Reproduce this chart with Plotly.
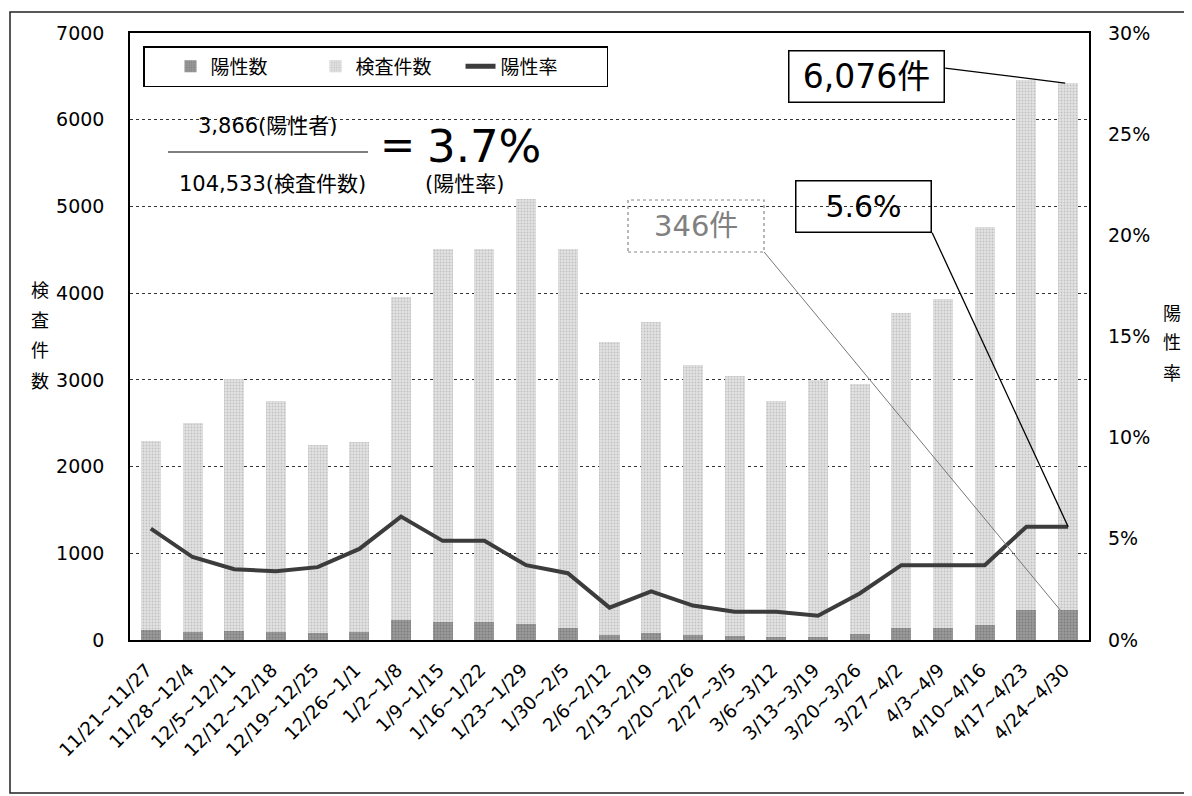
import plotly.graph_objects as go

# ---------------- data ----------------
categories = ["11/21~11/27", "11/28~12/4", "12/5~12/11", "12/12~12/18", "12/19~12/25",
              "12/26~1/1", "1/2~1/8", "1/9~1/15", "1/16~1/22", "1/23~1/29", "1/30~2/5",
              "2/6~2/12", "2/13~2/19", "2/20~2/26", "2/27~3/5", "3/6~3/12", "3/13~3/19",
              "3/20~3/26", "3/27~4/2", "4/3~4/9", "4/10~4/16", "4/17~4/23", "4/24~4/30"]
positives = [120, 98, 102, 91, 78, 98, 228, 211, 211, 182, 144, 54, 86, 53, 42, 38, 36, 66,
             135, 140, 170, 342, 346]
tests = [2180, 2400, 2908, 2669, 2167, 2185, 3732, 4296, 4299, 4909, 4362, 3381, 3587, 3124,
         3004, 2715, 2966, 2886, 3636, 3797, 4590, 6115, 6076]
rate_pct = [5.5, 4.1, 3.5, 3.4, 3.6, 4.5, 6.1, 4.9, 4.9, 3.7, 3.3, 1.6, 2.4, 1.7, 1.4, 1.4,
            1.2, 2.3, 3.7, 3.7, 3.7, 5.6, 5.6]
left_ticks = [0, 1000, 2000, 3000, 4000, 5000, 6000, 7000]
right_ticks = [0, 0.05, 0.10, 0.15, 0.20, 0.25, 0.30]
right_labels = ["0%", "5%", "10%", "15%", "20%", "25%", "30%"]

rates = [r / 100 for r in rate_pct]

FONT = "DejaVu Sans, Noto Sans CJK JP, sans-serif"

fig = go.Figure()
fig.add_trace(go.Bar(
    x=categories, y=positives, name="陽性数",
    marker=dict(color="#8f8f8f", line=dict(width=0),
                pattern=dict(shape=".", fgcolor="#5e5e5e", bgcolor="#9a9a9a", size=3, solidity=0.3)),
))
fig.add_trace(go.Bar(
    x=categories, y=tests, name="検査件数",
    marker=dict(color="#d8d8d8", line=dict(width=0),
                pattern=dict(shape=".", fgcolor="#a0a0a0", bgcolor="#e2e2e2", size=3, solidity=0.3)),
))
fig.add_trace(go.Scatter(
    x=categories, y=rates, name="陽性率", yaxis="y2", mode="lines",
    line=dict(color="#3c3c3c", width=4),
))

# the page adds an 8px body margin; the figure is sized so the screen plot area
# spans x 130..1089, y 33..640
OFF = 8
FW, FH = 1192 - OFF, 796 - OFF
L, R, T, B = 130, 1089, 33, 640          # screen pixels
W, H = R - L, B - T


def px(x):
    return (x - L) / W


def py(y):
    return (B - y) / H


def note(text, x, y, size=21, color="black", **kw):
    d = dict(text=text, x=px(x), y=py(y), xref="paper", yref="paper", showarrow=False,
             xanchor="center", yanchor="middle", font=dict(size=size, color=color))
    d.update(kw)
    return d


annotations = []
shapes = []

# axis titles (vertical stacked characters)
for i, ch in enumerate("検査件数"):
    annotations.append(note(ch, 40, 290 + i * 30.5, size=18))
for i, ch in enumerate("陽性率"):
    annotations.append(note(ch, 1172, 313 + i * 30, size=18))

# formula
annotations += [
    note("3,866(陽性者)", 268, 126),
    note("104,533(検査件数)", 272, 184),
    note("(陽性率)", 464, 184),
    note("=", 397, 145, size=42),
    note("3.7%", 484, 146, size=45),
]
shapes.append(dict(type="line", xref="paper", yref="paper", x0=px(168), x1=px(368),
                   y0=py(152), y1=py(152), line=dict(color="black", width=1.2)))

# callout boxes
annotations += [
    note("6,076件", 866.5, 77, size=33, bordercolor="black", borderwidth=1.5,
         width=150, height=46, borderpad=2, bgcolor="white"),
    note("5.6%", 863, 206, size=30, bordercolor="black", borderwidth=1.5,
         width=130, height=46, borderpad=2),
    note("346件", 696, 226, size=29, color="#808080"),
]
shapes.append(dict(type="rect", xref="paper", yref="paper", x0=px(628), x1=px(764),
                   y0=py(252), y1=py(200), line=dict(color="#888888", width=1.2, dash="dot")))

last = categories[-1]
# leader lines anchored at the data points of the last week
shapes.append(dict(type="line", xref="x", yref="y", xsizemode="pixel", ysizemode="pixel",
                   xanchor=last, yanchor=positives[-1] + tests[-1],
                   x0=-123, y0=15, x1=-3, y1=0, line=dict(color="black", width=1.2)))
shapes.append(dict(type="line", xref="x", yref="y", xsizemode="pixel", ysizemode="pixel",
                   xanchor=last, yanchor=positives[-1],
                   x0=-304, y0=358, x1=-8, y1=0, line=dict(color="#777777", width=1)))
shapes.append(dict(type="line", xref="x", yref="y2", xsizemode="pixel", ysizemode="pixel",
                   xanchor=last, yanchor=rates[-1],
                   x0=-136, y0=294, x1=0, y1=0, line=dict(color="black", width=1.3)))

# outer frame
shapes.append(dict(type="rect", xref="paper", yref="paper", x0=px(10), x1=px(1205),
                   y0=py(793), y1=py(12), line=dict(color="#222222", width=1.5), layer="below"))

fig.update_layout(
    width=FW, height=FH,
    margin=dict(l=L - OFF, r=FW - (R - OFF), t=T - OFF, b=FH - (B - OFF)),
    paper_bgcolor="white", plot_bgcolor="white",
    font=dict(family=FONT, size=17, color="black"),
    barmode="stack", bargap=0.52,
    showlegend=True,
    legend=dict(orientation="h", x=px(143), y=py(46), xanchor="left", yanchor="top",
                bordercolor="black", borderwidth=1.5, bgcolor="white",
                font=dict(size=19), entrywidth=100, entrywidthmode="pixels",
                traceorder="normal", itemsizing="constant",
                title=dict(text="\u3000", side="left", font=dict(size=16))),
    xaxis=dict(type="category", tickangle=-45, tickfont=dict(size=18.5),
               showline=True, linecolor="black", linewidth=2, mirror=True,
               showgrid=False, ticks="", ticklabelstandoff=10, ticklabelshift=-4),
    yaxis=dict(range=[0, 7000], tickvals=left_ticks, showgrid=True, gridcolor="#333333",
               gridwidth=1, griddash="3px,3px", showline=True, linecolor="black", linewidth=1.5,
               mirror=True, ticks="", ticklabelstandoff=20, zeroline=False,
               tickfont=dict(size=19)),
    yaxis2=dict(range=[0, 0.30], overlaying="y", side="right", tickvals=right_ticks,
                ticktext=right_labels, showgrid=False, showline=False, ticks="",
                ticklabelstandoff=18, zeroline=False, tickfont=dict(size=19)),
    annotations=annotations, shapes=shapes,
)

fig.write_html("out.html")
